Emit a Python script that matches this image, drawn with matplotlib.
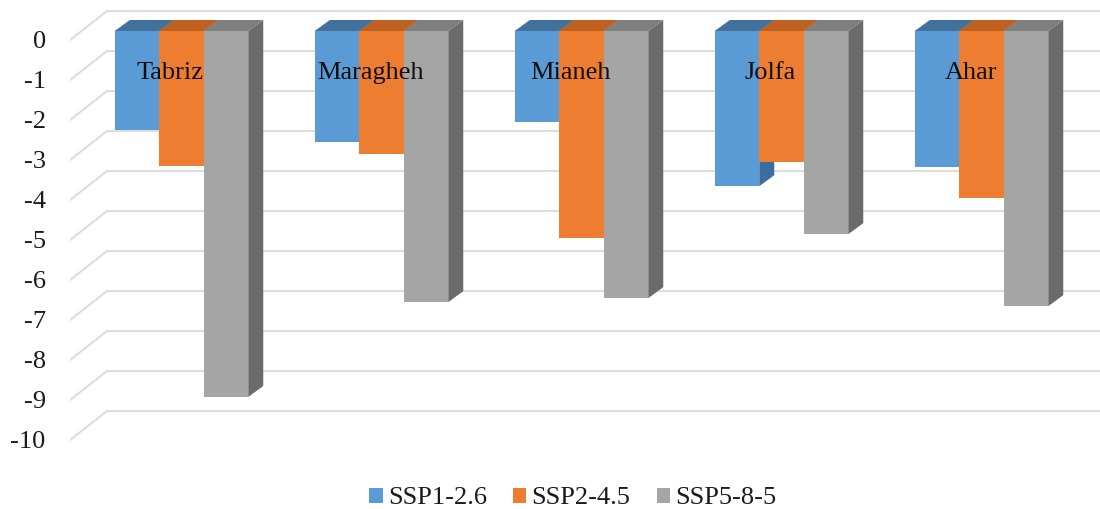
import matplotlib
matplotlib.use("Agg")
import matplotlib.pyplot as plt
from matplotlib.patches import Polygon, Patch

plt.rcParams['font.family'] = ['Liberation Serif', 'DejaVu Serif']

stations = ["Tabriz", "Maragheh", "Mianeh", "Jolfa", "Ahar"]
ssp126 = [-2.48, -2.78, -2.28, -3.88, -3.40]
ssp245 = [-3.38, -3.08, -5.18, -3.28, -4.18]
ssp585 = [-9.15, -6.78, -6.68, -5.08, -6.88]
series_names = ["SSP1-2.6", "SSP2-4.5", "SSP5-8-5"]
tick_values = list(range(0, -11, -1))

front_cols = ["#5B9BD5", "#ED7D31", "#A5A5A5"]
top_cols = ["#41719C", "#BE6120", "#7F7F7F"]
side_cols = ["#3B6E9E", "#B85A1C", "#6B6B6B"]
grid_col = "#DDDDDD"
text_col = "#1A1A1A"

W, H = 1100, 509
fig = plt.figure(figsize=(W / 100, H / 100), dpi=100, facecolor="white")
# axes occupying px x 70..1100, y 0..470
L, R, T, B = 70, 1100, 0, 470
ax = fig.add_axes([L / W, 1 - B / H, (R - L) / W, (B - T) / H])
ax.set_facecolor("none")
PX_X = 200.0   # pixels per category
PX_Y = 40.0    # pixels per value unit
x0 = 181.5     # pixel of category 0 centre
y0 = 31.0      # pixel of value 0 on the front plane
ax.set_xlim((L - x0) / PX_X, (R - x0) / PX_X)
ax.set_ylim(-(B - y0) / PX_Y, (y0 - T) / PX_Y)
for s in ax.spines.values():
    s.set_visible(False)
ax.set_xticks([])

bar_w = 44.5 / PX_X
dx = 15 / PX_X
dy = 11 / PX_Y

# floor / wall lines: front end at left, back end running to the right edge
grid_front = -9 / PX_Y
grid_back = 20 / PX_Y
xa = ax.get_xlim()[0]
xb = (107 - x0) / PX_X
xc = ax.get_xlim()[1]
for t in tick_values:
    ax.plot([xa, xb, xc], [t + grid_front, t + grid_back, t + grid_back],
            color=grid_col, lw=1.5, solid_joinstyle="miter", zorder=1)

ax.set_yticks([t + grid_front for t in tick_values], [str(t) for t in tick_values])
ax.tick_params(axis="y", length=0, pad=17.5, labelsize=19, labelcolor=text_col)

all_series = [ssp126, ssp245, ssp585]
z = 2
for i in range(len(stations)):
    for j, vals in enumerate(all_series):
        v = vals[i]
        left = i + (j - 1.5) * bar_w
        right = left + bar_w
        ax.add_patch(Polygon([(right, 0), (right + dx, dy), (right + dx, v + dy), (right, v)],
                             closed=True, fc=side_cols[j], ec="none", zorder=z))
        ax.add_patch(Polygon([(left, 0), (left + dx, dy), (right + dx, dy), (right, 0)],
                             closed=True, fc=top_cols[j], ec="none", zorder=z))
        ax.bar(left, v, width=bar_w, align="edge", color=front_cols[j], linewidth=0, zorder=z + 0.5)
        z += 1
    ax.text(i - 0.055, -1.05, stations[i], ha="center", va="center",
            fontsize=19, color="#111111", zorder=50)

handles = [Patch(fc=c, ec="none", label=n) for c, n in zip(front_cols, series_names)]
fig.legend(handles=handles, loc="center", bbox_to_anchor=(573 / W, 1 - 498.5 / H), ncol=3, frameon=False,
           fontsize=19, handlelength=0.5, handleheight=0.5, handletextpad=0.2,
           columnspacing=1.0, labelcolor=text_col, borderpad=0)

fig.savefig("out.png", dpi=100, facecolor="white")
